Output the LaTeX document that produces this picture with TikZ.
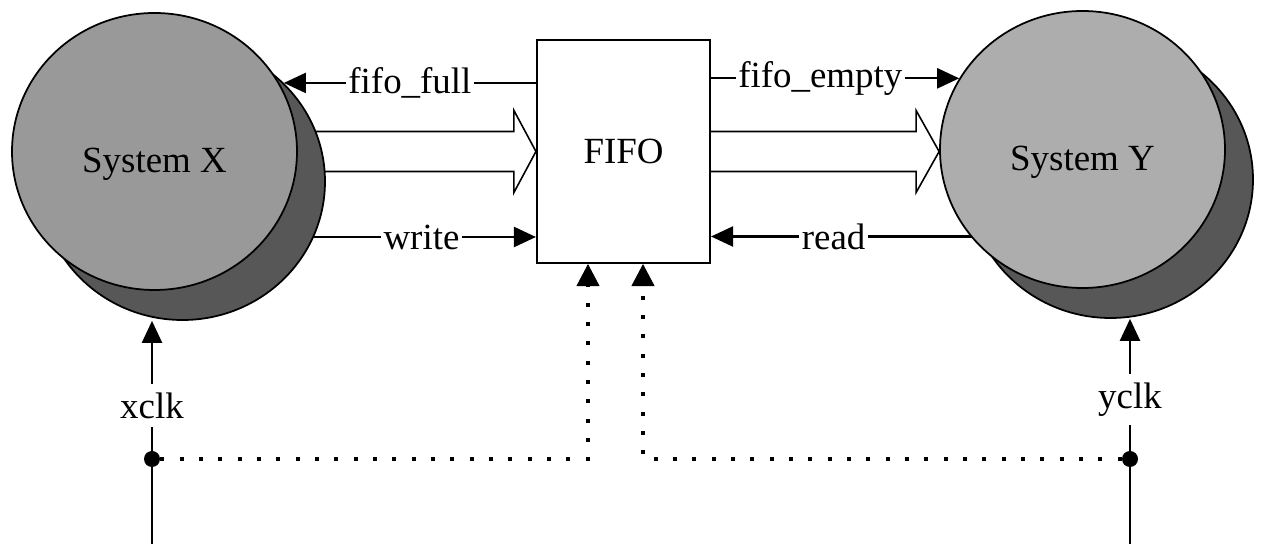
\documentclass[tikz,border=0pt]{standalone}
\usepackage{fontspec}
\setmainfont{Liberation Serif}
\usetikzlibrary{arrows.meta,shapes.geometric,backgrounds,positioning}
\definecolor{discx}{gray}{0.6}
\definecolor{discy}{gray}{0.68}
\definecolor{discsh}{gray}{0.34}
\tikzset{
  disc/.style={ellipse,draw,line width=1pt,minimum width=5.7cm,minimum height=5.54cm,inner sep=0pt,text height=24pt,text depth=0pt},
  fifobox/.style={rectangle,draw,line width=1.2pt,fill=white,minimum width=3.46cm,minimum height=4.46cm},
  sig/.style={line width=1.3pt,-{Triangle[length=4.4mm,width=4mm]}},
  lbl/.style={fill=white,inner xsep=1.5pt,inner ysep=1pt},
  clklbl/.style={fill=white,inner xsep=1.5pt,inner ysep=5pt},
  bus/.style={line width=0.9pt,fill=white,line join=miter},
  clkdot/.style={line width=2.3pt,dash pattern=on 2.3pt off 8.7pt,-{Triangle[length=4.4mm,width=4.6mm,line width=0.5pt]}},
  junction/.style={circle,fill,inner sep=0pt,minimum size=3.2mm}
}
\begin{document}
\begin{tikzpicture}[font=\fontsize{21}{25}\selectfont]
\useasboundingbox (0,0) rectangle (25.3,-10.98);
% the two systems and the buffer
\node[disc,fill=discx] (sysx) at (3.09,-3.03) {System X};
\node[disc,fill=discy] (sysy) at (21.65,-2.99) {System Y};
\node[fifobox] (fifo) at (12.47,-3.03) {FIFO};
\coordinate (ybus) at (fifo.east -| sysy.west);
\coordinate (wr) at ([yshift=-17.1mm]fifo.west);
\coordinate (rd) at ([yshift=-17mm]fifo.east);
\begin{scope}[on background layer]
% data buses
\draw[bus] ([yshift=4mm]sysx.center) -- ([xshift=-4.4mm,yshift=4mm]fifo.west) -- ++(0,4.2mm)
  -- (fifo.west) -- ++(-4.4mm,-8.2mm) -- ++(0,4.2mm) -- ([yshift=-4mm]sysx.center);
\draw[bus] ([yshift=4mm]fifo.east) -- ([xshift=-4.6mm,yshift=4mm]ybus) -- ++(0,4.2mm)
  -- (ybus) -- ++(-4.6mm,-8.2mm) -- ++(0,4.2mm) -- ([yshift=-4mm]fifo.east);
% write and read
\draw[sig] (sysx.center |- wr) -- node[lbl,pos=0.7]{write} (wr);
\draw[sig] (sysy.center |- rd) -- node[lbl,pos=0.67]{read} (rd);
% shadows
\node[disc,fill=discsh] (sysxsh) at ([shift={(0.56,-0.6)}]sysx.center) {};
\node[disc,fill=discsh] (sysysh) at ([shift={(0.56,-0.6)}]sysy.center) {};
\end{scope}
% status flags
\draw[sig] (fifo.west |- sysxsh.north east) -- node[lbl]{fifo\_full} (sysxsh.north east);
\draw[sig] (fifo.east |- sysy.150) -- node[lbl,pos=0.44]{fifo\_empty} (sysy.150);
% clocks
\coordinate (xin) at (3.04,-10.88);
\coordinate (yin) at (22.6,-10.88);
\draw[sig] (xin) -- node[clklbl,pos=0.62]{xclk} (xin |- sysxsh.south);
\draw[sig] (yin) -- node[clklbl,pos=0.64]{yclk} (yin |- sysysh.south);
\node[junction] (xdot) at (3.04,-9.18) {};
\node[junction] (ydot) at (22.6,-9.18) {};
\draw[clkdot] (xdot) -| ([xshift=-7.1mm]fifo.south);
\draw[clkdot] (ydot) -| ([xshift=3.9mm]fifo.south);
\end{tikzpicture}
\end{document}
